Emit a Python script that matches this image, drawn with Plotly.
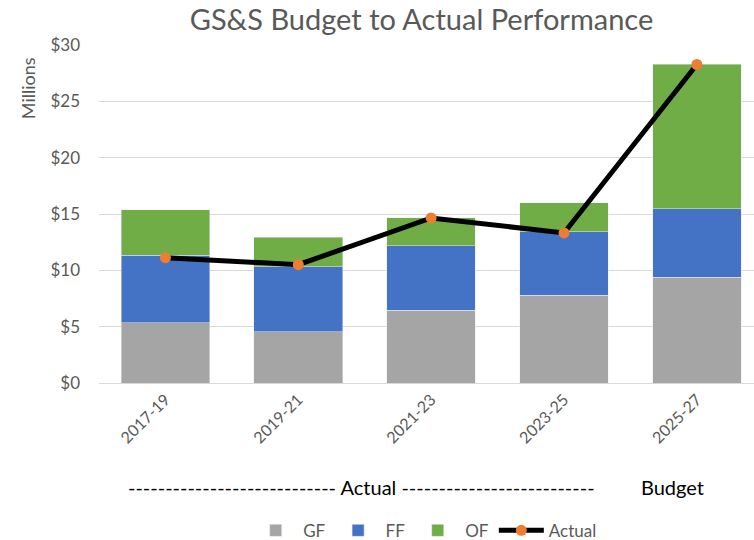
import plotly.graph_objects as go

periods = ["2017-19", "2019-21", "2021-23", "2023-25", "2025-27"]
gf = [5.34, 4.57, 6.47, 7.77, 9.40]
ff = [6.02, 5.75, 5.72, 5.66, 6.05]
of = [4.00, 2.62, 2.46, 2.58, 12.82]
actual = [11.12, 10.50, 14.65, 13.32, 28.27]

tick_vals = [0, 5, 10, 15, 20, 25, 30]
tick_text = ["$0", "$5", "$10", "$15", "$20", "$25", "$30"]

FONT = "Lato, 'Open Sans', sans-serif"
GREY_TEXT = "#595959"

fig = go.Figure()
fig.add_trace(go.Bar(x=periods, y=gf, name="GF", marker_color="#A5A5A5"))
fig.add_trace(go.Bar(x=periods, y=ff, name="FF", marker_color="#4472C4"))
fig.add_trace(go.Bar(x=periods, y=of, name="OF", marker_color="#70AD47"))
fig.add_trace(
    go.Scatter(x=periods, y=actual, name="Actual", mode="lines+markers",
               line=dict(color="black", width=5),
               marker=dict(color="#ED7D31", size=11)))

fig.update_layout(
    width=754, height=540,
    barmode="stack",
    bargap=0.333,
    margin=dict(l=99, r=0, t=45, b=157),
    plot_bgcolor="white",
    paper_bgcolor="white",
    font=dict(family=FONT, color=GREY_TEXT, size=16),
    title=dict(text="GS&S Budget to Actual Performance",
               x=0.559, xanchor="center", y=0.963, yanchor="middle",
               font=dict(size=29, color=GREY_TEXT)),
    xaxis=dict(range=[-0.5, 4.43], tickangle=-45, showgrid=False,
               showline=True, linecolor="#D9D9D9", ticks="",
               tickfont=dict(size=16, color=GREY_TEXT)),
    yaxis=dict(range=[0, 30], tickvals=tick_vals, ticktext=tick_text,
               gridcolor="#D9D9D9", zeroline=False, ticks="",
               ticklabelstandoff=18,
               tickfont=dict(size=17, color=GREY_TEXT)),
    legend=dict(orientation="h", xref="paper", x=0.498, xanchor="center",
                yref="container", y=0.017, yanchor="middle",
                itemwidth=45,
                font=dict(size=17, color=GREY_TEXT),
                traceorder="normal"),
    showlegend=True,
)

fig.add_annotation(text="Millions", textangle=-90, xref="paper", yref="paper",
                   x=-0.108, y=0.873, xanchor="center", yanchor="middle",
                   showarrow=False, font=dict(size=18, color=GREY_TEXT))
fig.add_annotation(text="-" * 28 + " Actual " + "-" * 26,
                   xref="paper", yref="paper", x=0.40, y=-0.309,
                   xanchor="center", yanchor="middle",
                   showarrow=False, font=dict(size=20, color="black"))
fig.add_annotation(text="Budget", xref="paper", yref="paper", x=0.876, y=-0.309,
                   xanchor="center", yanchor="middle",
                   showarrow=False, font=dict(size=20, color="black"))

fig.write_html("out.html", config={"displayModeBar": False},
               post_script="document.body.style.margin = '0';")
